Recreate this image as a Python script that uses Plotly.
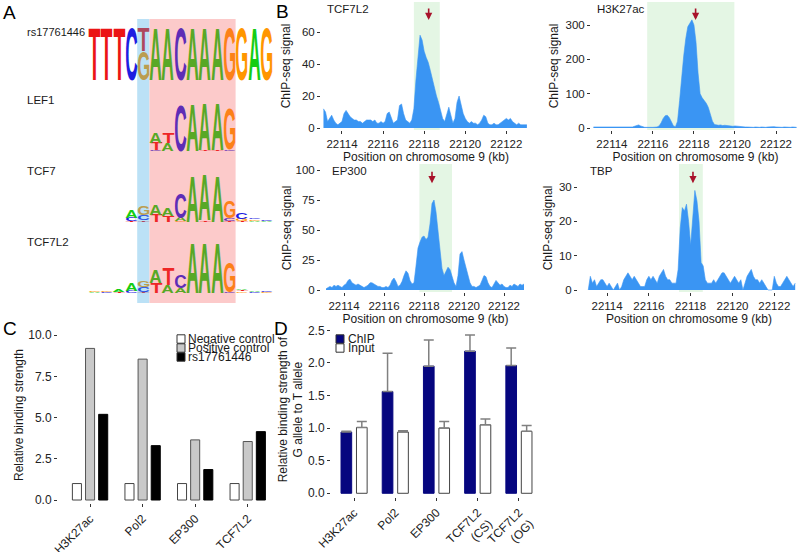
import json
import plotly.graph_objects as go

W, H = 800, 552
FONT = "Liberation Sans, Arial, Helvetica, sans-serif"
INK = "#1a1a1a"

# ---------------- Panel A : sequence logos (bits, stacked bottom -> top) ----------------
LOGO_NAMES = ["rs17761446", "LEF1", "TCF7", "TCF7L2"]
RS_LOGO = [[("T", 2.0)], [("T", 2.0)], [("T", 2.0)], [("C", 2.0)], [("G", 1.1), ("T", 0.9)],
           [("A", 2.0)], [("A", 2.0)], [("C", 2.0)], [("A", 2.0)], [("A", 2.0)], [("A", 2.0)],
           [("G", 2.0)], [("G", 2.0)], [("A", 2.0)], [("G", 2.0)]]
LEF1_LOGO = [[], [], [], [], [],
             [("C", 0.04), ("T", 0.27), ("A", 0.38)], [("A", 0.3), ("T", 0.38)], [("C", 1.77)],
             [("A", 1.8)], [("T", 0.04), ("A", 1.8)], [("T", 0.05), ("A", 1.8)],
             [("C", 0.06), ("G", 1.55)], [], [], []]
TCF7_LOGO = [[], [], [], [("T", 0.05), ("C", 0.12), ("A", 0.3)], [("T", 0.06), ("C", 0.2), ("G", 0.35)],
             [("T", 0.28), ("A", 0.38)], [("T", 0.25), ("A", 0.3)], [("G", 0.05), ("A", 0.12), ("C", 0.92)],
             [("A", 1.73)], [("T", 0.06), ("A", 1.73)], [("A", 1.73)], [("T", 0.05), ("C", 0.1), ("G", 0.65)],
             [("T", 0.05), ("G", 0.08), ("C", 0.25)], [("A", 0.05), ("G", 0.05), ("C", 0.05)],
             [("A", 0.04), ("C", 0.04)]]
TCF7L2_LOGO = [[("A", 0.03), ("G", 0.03)], [("C", 0.05), ("G", 0.05)], [("T", 0.05), ("A", 0.08)],
               [("C", 0.08), ("A", 0.3)], [("T", 0.05), ("C", 0.2), ("G", 0.22)],
               [("T", 0.38), ("A", 0.5)], [("A", 0.3), ("T", 0.65)], [("A", 0.2), ("C", 0.5)],
               [("A", 1.92)], [("A", 1.92)], [("A", 1.92)], [("C", 0.05), ("G", 1.15)],
               [("G", 0.06), ("T", 0.05), ("A", 0.05)], [("C", 0.05), ("A", 0.06)], [("G", 0.05), ("C", 0.05)]]
LOGOS = [RS_LOGO, LEF1_LOGO, TCF7_LOGO, TCF7L2_LOGO]
SNP_POS = 5
MOTIF_CORE = (6, 12)
LETTER_COLORS = {"A": (20, 205, 20), "C": (30, 30, 225), "G": (255, 150, 0), "T": (235, 20, 20)}

# layout constants for panel A (pixel rows)
LOGO_BASELINE_ROWS = [80, 151, 222, 293]
LOGO_LABEL_ROWS = [32, 100, 171, 242]
PX_PER_BIT = 26.0
LOGO_X0, LOGO_X1 = 88.0, 272.5
STRIPE_ROWS = (19, 303)
BLUE_OVL, BLUE_A = (60, 170, 230), 0.35
PINK_OVL, PINK_A = (245, 80, 80), 0.30

# ---------------- Panel B : ChIP-seq tracks ----------------
POS_START, POS_STEP = 22113.1, 0.1
TRACK_NAMES = ["TCF7L2", "H3K27ac", "EP300", "TBP"]
TCF7L2_SIG = [12, 10, 4, 6, 8, 5, 3, 2, 3, 4,
              9, 11, 9, 7, 6, 5, 5, 4, 4, 3,
              4, 5, 5, 5, 4, 5, 3, 3, 4, 3,
              4, 9, 10, 6, 3, 4, 5, 14, 15, 9,
              5, 4, 3, 5, 12, 30, 45, 58, 55, 48,
              44, 41, 36, 30, 25, 20, 16, 10, 6, 4,
              9, 13, 8, 3, 6, 16, 20, 15, 9, 6,
              4, 3, 4, 3, 3, 2, 3, 5, 8, 7,
              3, 2, 2, 3, 2, 2, 3, 4, 5, 6,
              5, 6, 4, 3, 2, 3, 2, 2, 2, 2]
H3K27AC_SIG = [3, 3, 3, 2, 3, 3, 2, 2, 3, 3,
               2, 2, 3, 2, 2, 3, 3, 2, 2, 3,
               5, 8, 9, 6, 3, 2, 2, 1, 2, 2,
               2, 3, 6, 15, 28, 36, 37, 30, 18, 6,
               4, 20, 80, 150, 210, 260, 295, 305, 315, 300,
               250, 160, 100, 88, 80, 72, 60, 40, 20, 10,
               8, 8, 9, 7, 8, 7, 6, 7, 5, 6,
               5, 4, 5, 4, 3, 3, 2, 2, 2, 3,
               2, 2, 3, 2, 2, 3, 4, 3, 4, 3,
               2, 2, 2, 3, 2, 2, 2, 3, 2, 2]
EP300_SIG = [1, 2, 3, 2, 4, 3, 4, 3, 2, 4,
             5, 8, 9, 6, 5, 4, 5, 4, 3, 2,
             3, 4, 6, 6, 5, 4, 3, 3, 2, 2,
             3, 2, 4, 8, 10, 7, 3, 4, 7, 12,
             16, 14, 8, 5, 6, 20, 35, 40, 44, 45,
             42, 44, 55, 72, 75, 65, 48, 30, 18, 12,
             15, 19, 17, 12, 6, 3, 12, 30, 32, 25,
             18, 12, 6, 3, 3, 2, 3, 4, 8, 12,
             11, 6, 3, 2, 5, 8, 6, 4, 5, 3,
             2, 2, 4, 3, 5, 4, 3, 5, 4, 5]
TBP_SIG = [0, 4, 2, 3, 1, 2, 3, 3, 2, 1,
           2, 1, 0, 1, 2, 0, 1, 3, 4, 5,
           4, 3, 4, 3, 2, 1, 1, 1, 3, 4,
           3, 4, 3, 2, 4, 5, 6, 4, 3, 3,
           2, 2, 2, 6, 18, 24, 23, 25, 20, 13,
           22, 29, 26, 20, 8, 7, 3, 2, 2, 2,
           3, 2, 3, 4, 5, 5, 4, 3, 2, 3,
           4, 3, 2, 3, 0, 2, 4, 5, 6, 4,
           3, 3, 2, 3, 2, 1, 0, 0, 0, 4,
           2, 1, 1, 2, 3, 4, 3, 2, 1, 2]
SIGNALS = [TCF7L2_SIG, H3K27AC_SIG, EP300_SIG, TBP_SIG]
REGION_KB = [(22117.5, 22118.76), (22115.72, 22119.97), (22117.77, 22119.4), (22117.44, 22118.58)]
SNP_KB = [22118.22, 22118.08, 22118.4, 22118.11]
X_TICKS = [22114, 22116, 22118, 22120, 22122]
Y_TICKS = [[0, 20, 40, 60], [0, 100, 200, 300], [0, 25, 50, 75, 100], [0, 10, 20, 30]]

# ---------------- Panel C ----------------
C_CATS = ["H3K27ac", "Pol2", "EP300", "TCF7L2"]
C_NEG = [1.0, 1.0, 1.0, 1.0]
C_POS = [9.2, 8.55, 3.65, 3.55]
C_RS = [5.2, 3.3, 1.85, 4.15]
C_SERIES = ["Negative control", "Positive control", "rs17761446"]

# ---------------- Panel D ----------------
D_CATS = ["H3K27ac", "Pol2", "EP300", "TCF7L2<br>(CS)", "TCF7L2<br>(OG)"]
D_CHIP = [0.94, 1.56, 1.95, 2.18, 1.96]
D_CHIP_ERR = [0.01, 0.59, 0.40, 0.25, 0.27]
D_INPUT = [1.01, 0.94, 1.00, 1.05, 0.95]
D_INPUT_ERR = [0.09, 0.02, 0.10, 0.09, 0.09]


def px(x):
    return x / W


def py(y):
    return 1 - y / H


def blend(rgb, ovl, a):
    return "rgb(%d,%d,%d)" % tuple(round(a * o + (1 - a) * c) for c, o in zip(rgb, ovl))


def hexrgb(rgb):
    return "rgb(%d,%d,%d)" % rgb


fig = go.Figure()
annotations = []
shapes = []
letter_targets = {}

# ---- Panel A letters (real text, stretched afterwards to logo cells)
slot_px = (LOGO_X1 - LOGO_X0) / 15
for logo, base in zip(LOGOS, LOGO_BASELINE_ROWS):
    for k, stack in enumerate(logo, start=1):
        cum = 0.0
        for letter, bits in stack:
            rgb = LETTER_COLORS[letter]
            if k == SNP_POS:
                col = blend(rgb, BLUE_OVL, BLUE_A)
            elif MOTIF_CORE[0] <= k <= MOTIF_CORE[1]:
                col = blend(rgb, PINK_OVL, PINK_A)
            else:
                col = hexrgb(rgb)
            annotations.append(dict(
                x=k, y=base - cum * PX_PER_BIT, xref="x", yref="y", text=letter,
                showarrow=False, xanchor="center", yanchor="bottom", borderpad=0, borderwidth=0,
                font=dict(family="Liberation Sans", size=40, color=col, weight="bold")))
            letter_targets[str(len(annotations) - 1)] = [slot_px * 0.95, bits * PX_PER_BIT]
            cum += bits

# stripes behind the logos
shapes.append(dict(type="rect", xref="x", yref="y", x0=SNP_POS - 0.5, x1=SNP_POS + 0.5,
                   y0=STRIPE_ROWS[0], y1=STRIPE_ROWS[1], line=dict(width=0),
                   fillcolor=blend((255, 255, 255), BLUE_OVL, BLUE_A), layer="below"))
shapes.append(dict(type="rect", xref="x", yref="y", x0=MOTIF_CORE[0] - 0.5, x1=MOTIF_CORE[1] + 0.5,
                   y0=STRIPE_ROWS[0], y1=STRIPE_ROWS[1], line=dict(width=0),
                   fillcolor=blend((255, 255, 255), PINK_OVL, PINK_A), layer="below"))

for name, row in zip(LOGO_NAMES, LOGO_LABEL_ROWS):
    annotations.append(dict(x=px(25), y=py(row), xref="paper", yref="paper", text=name,
                            showarrow=False, xanchor="left", yanchor="middle",
                            font=dict(size=11.5 if name != "rs17761446" else 11, color=INK)))

# ---- Panel B tracks
BLUE = "#3a95f3"
positions = [round(POS_START + POS_STEP * i, 2) for i in range(len(TCF7L2_SIG))]
for i, sig in enumerate(SIGNALS):
    n = i + 2
    fig.add_trace(go.Scatter(x=positions, y=sig, mode="lines", fill="tozeroy",
                             line=dict(color=BLUE, width=0.6), fillcolor=BLUE,
                             xaxis="x%d" % n, yaxis="y%d" % n, showlegend=False, hoverinfo="skip"))
    x0, x1 = REGION_KB[i]
    shapes.append(dict(type="rect", xref="x%d" % n, yref="y%d domain" % n, x0=x0, x1=x1, y0=0, y1=1,
                       fillcolor="#e4f6e4", line=dict(width=0), layer="below"))
    annotations.append(dict(x=SNP_KB[i], y=0.86 if i < 2 else 0.85, xref="x%d" % n,
                            yref="y%d domain" % n, text="", showarrow=True, ax=0, ay=-13,
                            arrowcolor="#a8122a", arrowhead=2, arrowsize=0.9, arrowwidth=1.6))

TRACK_LABEL_POS = [(325, 9), (595, 9), (330, 171), (588, 171)]
for name, (x, y) in zip(TRACK_NAMES, TRACK_LABEL_POS):
    annotations.append(dict(x=px(x), y=py(y), xref="paper", yref="paper", text=name,
                            showarrow=False, xanchor="left", yanchor="middle",
                            font=dict(size=11.5, color=INK)))

# ---- Panel C bars
C_FILLS = ["white", "#c9c9c9", "black"]
C_LINES = ["#444", "#555", "black"]
for name, vals, fc, lc in zip(C_SERIES, [C_NEG, C_POS, C_RS], C_FILLS, C_LINES):
    fig.add_trace(go.Bar(x=C_CATS, y=vals, name=name, marker=dict(color=fc, line=dict(color=lc, width=1)),
                         xaxis="x6", yaxis="y6", showlegend=False, hoverinfo="skip"))

# ---- Panel D bars
fig.add_trace(go.Bar(x=D_CATS, y=D_CHIP, name="ChIP", marker=dict(color="#06067f", line=dict(color="#06067f", width=1)),
                     error_y=dict(type="data", array=D_CHIP_ERR, arrayminus=[0] * len(D_CHIP_ERR),
                                  symmetric=False, color="#808080", thickness=1.5, width=5),
                     xaxis="x7", yaxis="y7", showlegend=False, hoverinfo="skip"))
fig.add_trace(go.Bar(x=D_CATS, y=D_INPUT, name="Input", marker=dict(color="white", line=dict(color="#444", width=1)),
                     error_y=dict(type="data", array=D_INPUT_ERR, arrayminus=[0] * len(D_INPUT_ERR),
                                  symmetric=False, color="#808080", thickness=1.5, width=5),
                     xaxis="x7", yaxis="y7", showlegend=False, hoverinfo="skip"))

# ---- compact legends for C and D (ggplot style, overlapping rows)
C_LEG_ROWS = [339, 348, 357]
for name, row, fc, lc in zip(C_SERIES, C_LEG_ROWS, C_FILLS, C_LINES):
    shapes.append(dict(type="rect", xref="paper", yref="paper", x0=px(177), x1=px(185),
                       y0=py(row + 4.2), y1=py(row - 4.2), fillcolor=fc, line=dict(color="#333", width=1)))
    annotations.append(dict(x=px(186), y=py(row), xref="paper", yref="paper", text=name, showarrow=False,
                            xanchor="left", yanchor="middle", font=dict(size=12, color=INK)))
D_LEG = [("ChIP", "#06067f", 339), ("Input", "white", 348)]
for name, fc, row in D_LEG:
    shapes.append(dict(type="rect", xref="paper", yref="paper", x0=px(336), x1=px(344),
                       y0=py(row + 4.2), y1=py(row - 4.2), fillcolor=fc, line=dict(color="#333", width=1)))
    annotations.append(dict(x=px(346), y=py(row), xref="paper", yref="paper", text=name, showarrow=False,
                            xanchor="left", yanchor="middle", font=dict(size=12, color=INK)))

# panel letters
for lab, (x, y) in zip(["A", "B", "C", "D"], [(9, 13), (282, 12), (10, 328), (281, 328)]):
    annotations.append(dict(x=px(x), y=py(y), xref="paper", yref="paper", text=lab, showarrow=False,
                            xanchor="center", yanchor="middle", font=dict(size=19, color="black")))


def ax_style(**kw):
    d = dict(showline=False, showgrid=False, zeroline=False, ticks="outside", ticklen=3, tickwidth=1,
             tickcolor="#333", tickfont=dict(size=11.5, color="#222"), autorange=False, automargin=False)
    d.update(kw)
    return d


TOP = [py(130), py(2)]
BOT = [py(292), py(164)]
xt = dict(text="Position on chromosome 9 (kb)", font=dict(size=12, color=INK), standoff=1)


def yt(s):
    return dict(text="ChIP-seq signal", font=dict(size=12, color=INK), standoff=s)


def bx(dom, rng, anchor):
    return ax_style(domain=dom, range=rng, tickvals=X_TICKS, tickformat="d", tickangle=0,
                    anchor=anchor, title=xt)


layout = dict(
    template="none",
    width=W, height=H, margin=dict(l=0, r=0, t=0, b=0, autoexpand=False),
    paper_bgcolor="white", plot_bgcolor="rgba(0,0,0,0)",
    font=dict(family=FONT, color=INK), showlegend=False, barmode="group", bargap=0.25, bargroupgap=0.31,
    xaxis=dict(domain=[px(LOGO_X0), px(LOGO_X1)], range=[0.5, 15.5], visible=False, anchor="y", automargin=False),
    yaxis=dict(domain=[0, 1], range=[H, 0], visible=False, anchor="x", automargin=False),
    xaxis2=bx([px(321), px(531)], [22112.98, 22123.2], "y2"),
    yaxis2=ax_style(domain=TOP, range=[-1.25, 78.75], tickvals=Y_TICKS[0], anchor="x2", title=yt(8)),
    xaxis3=bx([px(591), 1.0], [22112.98, 22123.17], "y3"),
    yaxis3=ax_style(domain=TOP, range=[-5.8, 367], tickvals=Y_TICKS[1], anchor="x3", title=yt(4)),
    xaxis4=bx([px(321), px(530)], [22112.85, 22123.3], "y4"),
    yaxis4=ax_style(domain=BOT, range=[-1.67, 105], tickvals=Y_TICKS[2], anchor="x4", title=yt(1)),
    xaxis5=bx([px(578), 1.0], [22112.61, 22123.23], "y5"),
    yaxis5=ax_style(domain=BOT, range=[-0.58, 36.7], tickvals=Y_TICKS[3], anchor="x5", title=yt(3)),
    xaxis6=ax_style(domain=[px(58), px(274)], range=[-0.61, 3.5], type="category", tickangle=-45,
                    tickfont=dict(size=12, color="#222"), anchor="y6"),
    yaxis6=ax_style(domain=[py(503), py(327)], range=[-0.18, 10.5], tickvals=[0, 2.5, 5, 7.5, 10],
                    tickformat=".1f", tickfont=dict(size=12, color="#222"), anchor="x6",
                    title=dict(text="Relative binding strength", font=dict(size=12, color=INK), standoff=2)),
    xaxis7=ax_style(domain=[px(331), px(542)], range=[-0.56, 4.56], type="category", tickangle=-45,
                    tickfont=dict(size=12, color="#222"), anchor="y7"),
    yaxis7=ax_style(domain=[py(497), py(322.2)], range=[-0.057, 2.625], tickvals=[0, 0.5, 1, 1.5, 2, 2.5],
                    tickformat=".1f", tickfont=dict(size=12, color="#222"), anchor="x7",
                    title=dict(text="Relative binding strength of<br>G allele to T allele",
                               font=dict(size=12, color=INK), standoff=2)),
    annotations=annotations, shapes=shapes,
)
fig.update_layout(**layout)

POST_JS = """
document.body.style.margin = '0';
document.body.style.padding = '0';
document.body.style.overflow = 'hidden';
var gd = document.getElementById('{plot_id}');
var TARGETS = %s;
var cv = document.createElement('canvas').getContext('2d');
cv.font = "bold 40px 'Liberation Sans'";
function fitLogo(){
  var gs = gd.querySelectorAll('g.annotation');
  gs.forEach(function(g){
    var t = TARGETS[g.getAttribute('data-index')];
    if(!t) return;
    var tx = g.querySelector('text.annotation-text');
    if(!tx) return;
    var m = cv.measureText(tx.textContent);
    var L = m.actualBoundingBoxLeft, R = m.actualBoundingBoxRight;
    var A = m.actualBoundingBoxAscent, D = m.actualBoundingBoxDescent;
    tx.removeAttribute('transform');
    var bb = tx.getBBox();
    var y0 = parseFloat(tx.getAttribute('y'));
    if(isNaN(y0)) y0 = bb.y + m.fontBoundingBoxAscent;
    var inkcx = bb.x + (R - L) / 2;
    var inkb = y0 + D;
    var cx = bb.x + bb.width / 2;
    var by = bb.y + bb.height;
    var sx = t[0] / (L + R), sy = t[1] / (A + D);
    tx.setAttribute('transform', 'translate(' + cx + ',' + by + ') scale(' + sx + ',' + sy + ') translate(' + (-inkcx) + ',' + (-inkb) + ')');
  });
}
fitLogo();
gd.on('plotly_afterplot', fitLogo);
""" % json.dumps(letter_targets)

fig.write_html("out.html", include_plotlyjs=True, full_html=True, post_script=POST_JS,
               config={"displayModeBar": False, "staticPlot": True})
